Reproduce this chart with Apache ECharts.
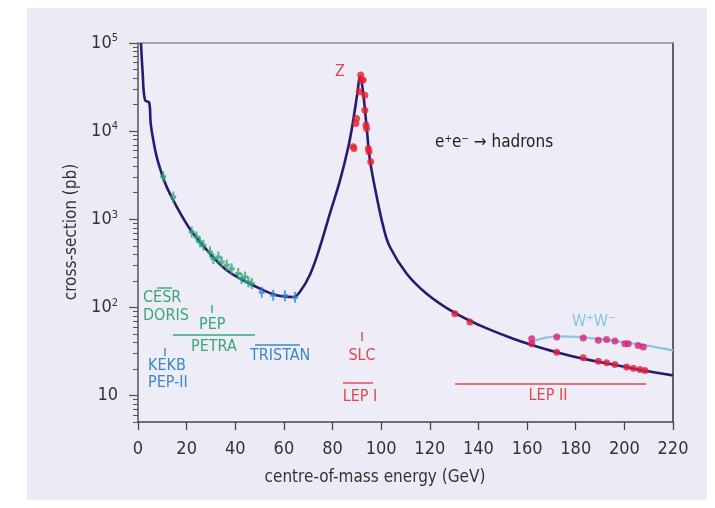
<!DOCTYPE html>
<html>
<head>
<meta charset="utf-8">
<script src="https://cdn.jsdelivr.net/npm/echarts@6/dist/echarts.min.js"></script>
<style>
html, body { margin: 0; padding: 0; background: #fff; }
#chart { width: 715px; height: 508px; }
</style>
</head>
<body>
<div id="chart"></div>
<script>
// centre-of-mass energy (GeV) / cross-section (pb)
var curveE = [1.23, 1.93, 2.88, 4.65, 5.22, 6.29, 7.69, 9.75, 11.8, 14.5, 18.6, 22.7, 29.6, 36.5, 43.3, 50.2, 57.0, 63.9, 66.6, 70.7, 74.8, 78.9, 83.1, 86.5, 88.5, 90.2, 91.3, 92.6, 94.0, 95.4, 97.9, 100.9, 103.6, 110.5, 118.7, 129.6, 140.6, 154.3, 161.2, 172.2, 183.1, 195.4, 207.8, 220];
var curveXS = [100000, 45600, 22500, 21000, 12250, 7900, 5100, 3300, 2330, 1645, 1025, 688, 407, 263, 203, 163, 137, 131, 150, 235, 484, 1160, 2775, 6630, 13300, 26800, 42000, 26800, 11200, 4680, 1960, 818, 484, 241, 143, 88.6, 62.4, 44, 38, 31, 26.1, 22.5, 19.2, 16.9];

// CESR / DORIS / PEP / PETRA
var lowE = [10.4, 14.5, 22.1, 24.1, 25.5, 26.9, 29.6, 31.0, 33.0, 34.4, 36.5, 38.5, 41.2, 42.6, 44.0, 45.4, 46.8];
var lowXS = [3030, 1790, 718, 630, 552, 507, 425, 357, 373, 327, 300, 275, 242, 212, 221, 194, 186];

// TRISTAN
var triE = [50.9, 55.6, 60.4, 64.6];
var triXS = [148, 137, 135, 130];

// LEP I (Z scan)
var lep1E = [88.5, 88.8, 89.6, 89.9, 91.0, 91.57, 91.98, 92.6, 93.3, 93.3, 93.75, 94.0, 94.7, 95.0, 95.7];
var lep1XS = [6640, 6360, 12240, 13900, 28000, 43300, 38000, 38000, 25600, 17300, 11700, 10700, 6360, 5820, 4480];

// LEP II, hadrons
var lep2E = [130.3, 136.5, 161.9, 172.2, 183.1, 189.3, 192.7, 196.1, 200.9, 203.7, 206.4, 208.5];
var lep2XS = [84.7, 68.1, 38.7, 31.0, 26.8, 24.5, 23.5, 22.5, 21.0, 20.4, 19.7, 19.2];

// LEP II, W+W-
var wwE = [161.9, 172.2, 183.1, 189.3, 192.7, 196.1, 200.2, 201.6, 205.7, 207.8];
var wwXS = [44.1, 46.0, 44.8, 42.2, 43.3, 41.4, 38.7, 38.7, 37.0, 35.4];
var wwCurveE = [161.2, 172.2, 183.1, 196.5, 208.8, 220];
var wwCurveXS = [40, 46.8, 45.6, 41.4, 37.0, 32.4];

var yLabelValues = [10, 100, 1000, 10000, 100000];
var yMin = 5, yMax = 100000;

var FONT = "'Liberation Sans Narrow', 'DejaVu Sans Condensed', 'Liberation Sans', sans-serif";
var GREEN = '#39a67c', BLUE = '#3a88c4', RED = '#e0464e';

function pts(e, xs) {
  return e.map(function (v, i) { return [v, Math.log10(xs[i])]; });
}

var majorTicks = yLabelValues.map(function (v) { return Math.log10(v); });
var minorTicks = [];
[1, 10, 100, 1000, 10000].forEach(function (d) {
  for (var k = 2; k <= 9; k++) {
    var v = k * d;
    if (v >= yMin && v <= yMax) minorTicks.push(Math.log10(v));
  }
});

var chart = echarts.init(document.getElementById('chart'));

function txt(x, y, s, color, align, extra) {
  var o = {
    type: 'text', x: x, y: y, z: 50,
    style: { text: s, fill: color, font: '16px ' + FONT, align: align || 'left', verticalAlign: 'middle' }
  };
  if (extra) for (var k in extra) o.style[k] = extra[k];
  return o;
}
function seg(x1, y1, x2, y2, color) {
  return { type: 'line', z: 50, shape: { x1: x1, y1: y1, x2: x2, y2: y2 }, style: { stroke: color, lineWidth: 1.4 } };
}

var errBar = 'path://M2,0H4V4H6V7H4V11H2V7H0V4H2Z';

var yTitle = txt(72, 232, 'cross-section (pb)', '#333', 'center', { font: '17px ' + FONT });
yTitle.rotation = Math.PI / 2;

var option = {
  backgroundColor: '#fff',
  animation: false,
  grid: {
    left: 138, right: 42, top: 43, bottom: 86,
    show: true, backgroundColor: '#eeedf7', borderWidth: 0
  },
  xAxis: [{
    type: 'value', min: 0, max: 220, interval: 20,
    axisLine: { lineStyle: { color: '#444', width: 1.5 } },
    axisTick: { show: true, length: 8, lineStyle: { color: '#444', width: 1.3 } },
    axisLabel: { color: '#333', fontSize: 18, fontFamily: FONT, margin: 18 },
    splitLine: { show: false }
  }, {
    type: 'value', min: 0, max: 220, position: 'top',
    axisLine: { show: true, lineStyle: { color: '#8a8a8a', width: 1.5 } },
    axisTick: { show: false }, axisLabel: { show: false }, splitLine: { show: false }
  }],
  yAxis: [{
    type: 'value', min: Math.log10(yMin), max: Math.log10(yMax),
    axisLine: { show: true, lineStyle: { color: '#555', width: 1.5 } },
    axisTick: { show: true, length: 9, customValues: majorTicks, lineStyle: { color: '#555', width: 1.3 } },
    axisLabel: {
      customValues: majorTicks, margin: 20, color: '#333',
      formatter: function (v) {
        var p = Math.round(v);
        return p === 1 ? '{b|10}' : '{b|10}{s|' + p + '}';
      },
      rich: {
        b: { fontSize: 18, fontFamily: FONT, color: '#333' },
        s: { fontSize: 11, fontFamily: FONT, color: '#333', verticalAlign: 'bottom', padding: [0, 0, 9, 0] }
      }
    },
    splitLine: { show: false }
  }, {
    type: 'value', min: Math.log10(yMin), max: Math.log10(yMax), position: 'left',
    axisLine: { show: false },
    axisTick: { show: true, length: 5, customValues: minorTicks, lineStyle: { color: '#555', width: 1 } },
    axisLabel: { show: false }, splitLine: { show: false }
  }, {
    type: 'value', min: Math.log10(yMin), max: Math.log10(yMax), position: 'right',
    axisLine: { show: true, lineStyle: { color: '#333', width: 1.5 } },
    axisTick: { show: false }, axisLabel: { show: false }, splitLine: { show: false }
  }],
  series: [{
    name: 'hadrons', type: 'line', data: pts(curveE, curveXS),
    smooth: 0.4, showSymbol: false, z: 3,
    lineStyle: { color: '#2a1a6e', width: 2.6 }
  }, {
    name: 'WW', type: 'line', data: pts(wwCurveE, wwCurveXS),
    smooth: 0.4, showSymbol: false, z: 2,
    lineStyle: { color: '#8cc3e3', width: 2.4 }
  }, {
    name: 'low', type: 'scatter', data: pts(lowE, lowXS), z: 5,
    symbol: errBar, symbolSize: [6, 11], itemStyle: { color: '#2fa57a' }
  }, {
    name: 'TRISTAN', type: 'scatter', data: pts(triE, triXS), z: 5,
    symbol: errBar, symbolSize: [6, 11], itemStyle: { color: '#2f86cc' }
  }, {
    name: 'LEP I', type: 'scatter', data: pts(lep1E, lep1XS), z: 6,
    symbol: 'circle', symbolSize: 7, itemStyle: { color: '#e8202e' }
  }, {
    name: 'LEP II', type: 'scatter', data: pts(lep2E, lep2XS), z: 6,
    symbol: 'circle', symbolSize: 7, itemStyle: { color: '#e0203a' }
  }, {
    name: 'WW pts', type: 'scatter', data: pts(wwE, wwXS), z: 6,
    symbol: 'circle', symbolSize: 7, itemStyle: { color: '#d9207a' }
  }],
  graphic: [
    { type: 'rect', z: -100, shape: { x: 27, y: 8, width: 680, height: 492 }, style: { fill: '#ecebf5' } },
    yTitle,
    txt(375, 478, 'centre-of-mass energy (GeV)', '#333', 'center', { font: '17px ' + FONT }),
    txt(143, 298, 'CESR', GREEN), seg(157, 288, 172, 288, GREEN),
    txt(143, 316, 'DORIS', GREEN),
    seg(212, 305, 212, 313, GREEN), txt(199, 325, 'PEP', GREEN),
    seg(173, 335, 255, 335, GREEN), txt(191, 347, 'PETRA', GREEN),
    seg(165, 348, 165, 356, BLUE), txt(148, 366, 'KEKB', BLUE), txt(148, 383, 'PEP-II', BLUE),
    seg(255, 345, 300, 345, BLUE), txt(250, 356, 'TRISTAN', BLUE),
    seg(362, 332, 362, 341, RED), txt(362, 356, 'SLC', RED, 'center'),
    seg(343, 383, 373, 383, RED), txt(360, 397, 'LEP I', RED, 'center'),
    seg(455, 384, 646, 384, RED), txt(548, 396, 'LEP II', RED, 'center'),
    txt(340, 72, 'Z', RED, 'center'),
    { type: 'text', x: 435, y: 143, z: 50, style: {
      text: '{b|e}{s|+}{b|e}{s|\u2212}{b| \u2192 hadrons}', verticalAlign: 'middle',
      rich: { b: { font: '17px ' + FONT, fill: '#222' }, s: { font: '10px ' + FONT, fill: '#222', verticalAlign: 'bottom', padding: [0, 0, 8, 0] } }
    } },
    { type: 'text', x: 572, y: 322, z: 50, style: {
      text: '{b|W}{s|+}{b|W}{s|\u2212}', verticalAlign: 'middle',
      rich: { b: { font: '16px ' + FONT, fill: '#8cc3e3' }, s: { font: '10px ' + FONT, fill: '#8cc3e3', verticalAlign: 'bottom', padding: [0, 0, 8, 0] } }
    } }
  ]
};
chart.setOption(option);
</script>
</body>
</html>
